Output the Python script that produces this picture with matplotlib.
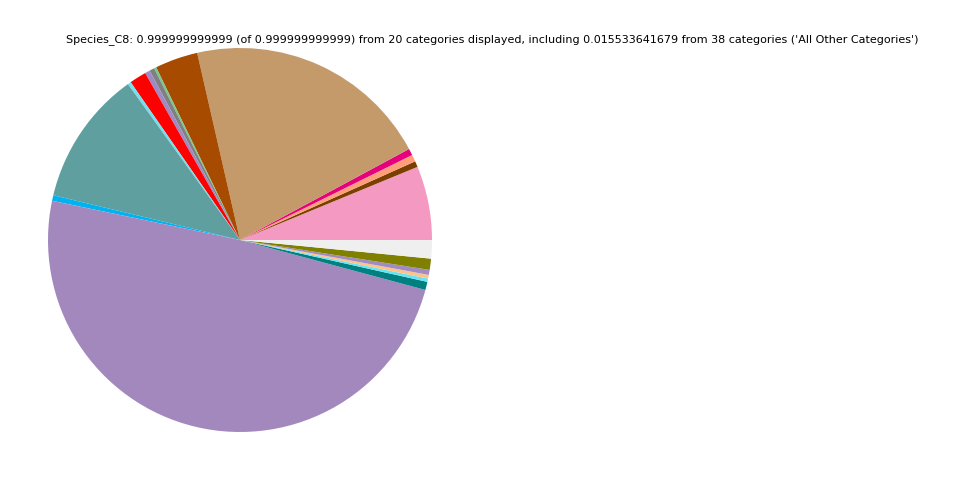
import matplotlib
matplotlib.use("Agg")
import matplotlib.pyplot as plt

categories = ["C1", "C2", "C3", "C4", "C5", "C6", "C7", "C8", "C9", "C10",
              "C11", "C12", "C13", "C14", "C15", "C16", "C17", "C18", "C19",
              "All Other Categories"]
values = [0.0622, 0.0050, 0.0058, 0.0056, 0.2072, 0.0361, 0.0019, 0.0042,
          0.0042, 0.0142, 0.0028, 0.1133, 0.0047, 0.4908, 0.0069, 0.0028,
          0.0031, 0.0042, 0.0094, 0.0155]
colors = ["#F49AC2", "#7B3F00", "#FF9F7A", "#E6007E", "#C49A6A", "#A64B00",
          "#77C98A", "#808080", "#9F8AC4", "#FF0000", "#72E0EE", "#5F9F9F",
          "#00B2F0", "#A388BE", "#008080", "#66E5F5", "#FFC38A", "#A08BC4",
          "#808000", "#EFEFEF"]

fig = plt.figure(figsize=(9.6, 4.8), dpi=100)
ax = fig.add_axes([0, 0, 0.5, 1])
ax.pie(values, colors=colors, startangle=0, counterclock=True,
       wedgeprops=dict(linewidth=0), radius=1.0, center=(0, 0))
ax.set_xlim(-1.25, 1.25)
ax.set_ylim(-1.25, 1.25)
ax.set_aspect("equal")
ax.axis("off")

fig.text(492 / 960, 1 - 40 / 480,
         "Species_C8: 0.999999999999 (of 0.999999999999) from 20 categories displayed, "
         "including 0.015533641679 from 38 categories ('All Other Categories')",
         ha="center", va="center", fontsize=8)

fig.savefig("out.png", dpi=100)
